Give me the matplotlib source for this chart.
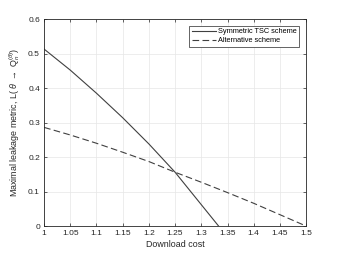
import numpy as np
import matplotlib.pyplot as plt

plt.rcParams['font.family'] = ['Liberation Sans', 'DejaVu Sans']
plt.rcParams['mathtext.fontset'] = 'custom'
plt.rcParams['mathtext.rm'] = 'Liberation Sans'
plt.rcParams['mathtext.it'] = 'Liberation Sans:italic'

# download cost grid
cost = [1.0, 1.05, 1.1, 1.15, 1.2, 1.25, 1.3, 1.333]
tsc = [0.513, 0.452, 0.385, 0.314, 0.238, 0.156, 0.062, 0.0]

cost_alt = [1.0, 1.05, 1.1, 1.15, 1.2, 1.25, 1.3, 1.35, 1.4, 1.45, 1.5]
alt = [0.286, 0.264, 0.240, 0.214, 0.187, 0.156, 0.127, 0.097, 0.066, 0.033, 0.0]

xticks = [1, 1.05, 1.1, 1.15, 1.2, 1.25, 1.3, 1.35, 1.4, 1.45, 1.5]
xticklabels = ['1', '1.05', '1.1', '1.15', '1.2', '1.25', '1.3', '1.35', '1.4', '1.45', '1.5']
yticks = [0, 0.1, 0.2, 0.3, 0.4, 0.5, 0.6]
yticklabels = ['0', '0.1', '0.2', '0.3', '0.4', '0.5', '0.6']

fig = plt.figure(figsize=(3.39, 2.54), dpi=100)
ax = fig.add_axes([0.13, 0.11, 0.773, 0.815])

dark = '#262626'
ax.plot(cost, tsc, '-', color='#404040', lw=0.8, label='Symmetric TSC scheme')
ax.plot(cost_alt, alt, '--', color='#404040', lw=0.8, dashes=(6, 3), label='Alternative scheme')

ax.set_xlim(1, 1.5)
ax.set_ylim(0, 0.6)
ax.set_xticks(xticks)
ax.set_xticklabels(xticklabels)
ax.set_yticks(yticks)
ax.set_yticklabels(yticklabels)
ax.tick_params(direction='in', top=True, right=True, labelsize=6,
               length=2.5, width=0.5, colors=dark, pad=3)
ax.grid(True, color='#e6e6e6', lw=0.5)
ax.set_axisbelow(True)
for s in ax.spines.values():
    s.set_color(dark)
    s.set_linewidth(0.6)

ax.set_xlabel('Download cost', fontsize=6.4, color=dark, labelpad=2)
ax.set_ylabel(r'Maximal leakage metric, L( $\theta$ $\rightarrow$ Q$_n^{(\theta)}$)',
              fontsize=6.4, color=dark, labelpad=4)

leg = ax.legend(loc='upper right', fontsize=5.3, frameon=True, fancybox=False,
                edgecolor=dark, framealpha=1, handlelength=3.3, borderpad=0.35,
                labelspacing=0.25, handletextpad=0.3, borderaxespad=0.9)
leg.get_frame().set_linewidth(0.5)

fig.savefig('out.png', dpi=100)
